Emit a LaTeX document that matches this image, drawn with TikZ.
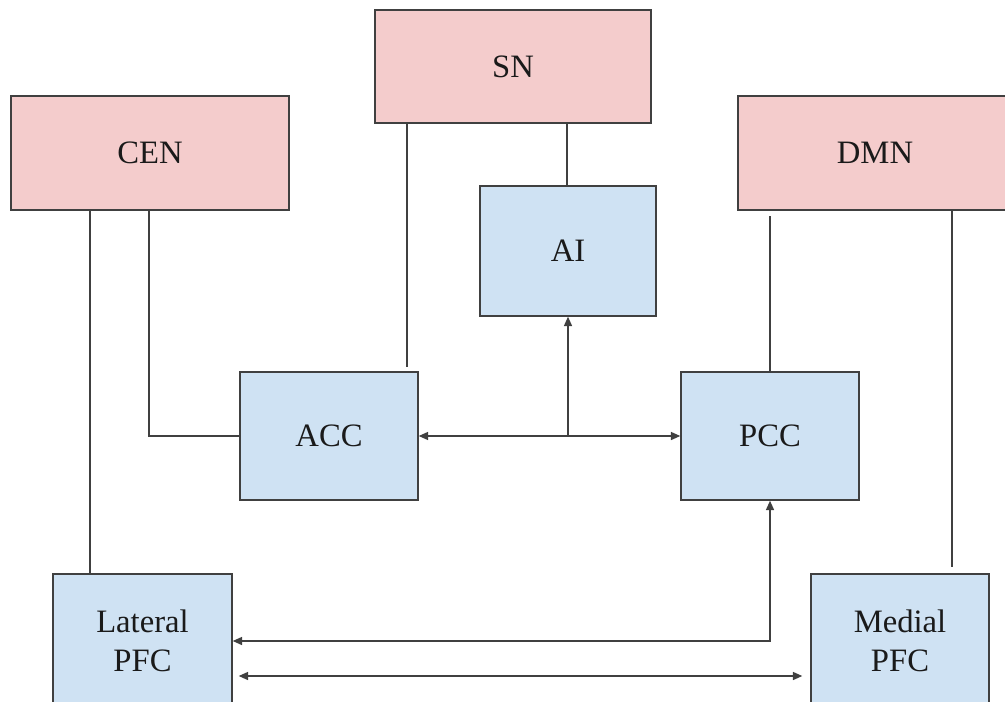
\documentclass[tikz,border=0pt]{standalone}
\usepackage{fontspec}
\setmainfont{Liberation Serif}
\usetikzlibrary{arrows.meta}
\definecolor{pinkfill}{HTML}{F4CCCC}
\definecolor{bluefill}{HTML}{CFE2F3}
\definecolor{edgegray}{HTML}{404040}
\definecolor{txtgray}{HTML}{1A1A1A}
\begin{document}
\begin{tikzpicture}[x=0.75pt,y=-0.75pt,
  boxbase/.style={draw=edgegray, line width=1.1pt, inner sep=0pt, align=center,
    text=txtgray, font=\fontsize{24.5}{29.25}\selectfont},
  pinkbox/.style={boxbase, fill=pinkfill},
  bluebox/.style={boxbase, fill=bluefill},
  conn/.style={draw=edgegray, line width=1.1pt},
  tip/.style={-{Triangle[length=7pt,width=6pt]}},
  tips/.style={{Triangle[length=7pt,width=6pt]}-{Triangle[length=7pt,width=6pt]}}
]
\useasboundingbox (0,0) rectangle (1005,702);
\clip (0,0) rectangle (1005,702);
\fill[white] (0,0) rectangle (1005,702);

\node[pinkbox, minimum width=207pt, minimum height=84.75pt] (SN) at (513,66.5) {SN};
\node[pinkbox, minimum width=208.5pt, minimum height=85.5pt] (CEN) at (150,153) {CEN};
\node[pinkbox, minimum width=205.5pt, minimum height=85.5pt] (DMN) at (875,153) {DMN};
\node[bluebox, minimum width=132pt, minimum height=97.5pt] (AI) at (568,251) {AI};
\node[bluebox, minimum width=133.5pt, minimum height=96pt] (ACC) at (329,436) {ACC};
\node[bluebox, minimum width=133.5pt, minimum height=96pt] (PCC) at (770,436) {PCC};
\node[bluebox, minimum width=134.25pt, minimum height=100.5pt] (LPFC) at (142.5,641) {Lateral\\PFC};
\node[bluebox, minimum width=133.5pt, minimum height=100.5pt] (MPFC) at (900,641) {Medial\\PFC};

\coordinate (x90) at (90,0);
\coordinate (x149) at (149,0);
\coordinate (x407) at (407,0);
\coordinate (x567) at (567,0);
\coordinate (x952) at (952,0);
\coordinate (y676) at (0,676);

\draw[conn] (CEN.south -| x90) -- (LPFC.north -| x90);
\draw[conn] (CEN.south -| x149) |- (ACC.west);
\draw[conn, shorten >=3pt] (SN.south -| x407) -- (ACC.north -| x407);
\draw[conn] (SN.south -| x567) -- (AI.north -| x567);
\draw[conn, tips] (ACC.east) -- (PCC.west);
\draw[conn, tip] (AI.south |- ACC.east) -- (AI.south);
\draw[conn, shorten <=4pt] (DMN.south -| PCC.north) -- (PCC.north);
\draw[conn, shorten >=5pt] (DMN.south -| x952) -- (MPFC.north -| x952);
\draw[conn, tips] (PCC.south) |- (LPFC.east);
\draw[conn, tips, shorten <=4.5pt, shorten >=6pt] (LPFC.east |- y676) -- (MPFC.west |- y676);
\end{tikzpicture}
\end{document}
